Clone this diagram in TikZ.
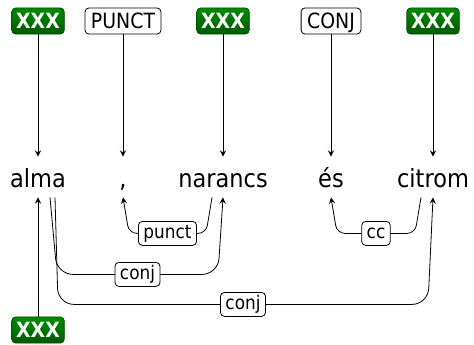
\documentclass[tikz,border=0pt]{standalone}
\usepackage{fontspec}
\setmainfont{DejaVu Sans}[FakeStretch=0.9]
\usetikzlibrary{arrows,positioning,calc}

\begin{document}
\begin{tikzpicture}[x=0.5pt,y=0.5pt,
  word/.style={inner sep=0pt,text height=15pt,text depth=5pt,anchor=base,font=\fontsize{12.5}{15}\selectfont},
  tag/.style={draw,rounded corners=2pt,inner xsep=3pt,inner ysep=2.7pt,text height=7.65pt,text depth=0pt,font=\fontsize{10.5}{12}\selectfont},
  xtag/.style={tag,draw=green!30!black,top color=green!55!black,bottom color=green!35!black,text=white,font=\fontsize{10.5}{12}\selectfont\bfseries,inner xsep=2.2pt},
  deplab/.style={draw,fill=white,rounded corners=2pt,inner xsep=2.5pt,inner ysep=1.5pt,text height=7pt,text depth=2pt,font=\fontsize{9.4}{11}\selectfont},
  edge/.style={-stealth,rounded corners=4pt}
]
\useasboundingbox (0,0) rectangle (474,344);

% words
\node[word] (alma) at (38,157) {alma};
\node[word] (comma) at (123,157) {,};
\node[word] (narancs) at (223,157) {narancs};
\node[word] (es) at (331,157) {és};
\node[word] (citrom) at (433,157) {citrom};

% tags
\node[xtag] (t1) at (38,323) {XXX};
\node[tag] (t2) at (123,323) {PUNCT};
\node[xtag] (t3) at (223,323) {XXX};
\node[tag] (t4) at (331,323) {CONJ};
\node[xtag] (t5) at (433,323) {XXX};
\node[xtag] (root) at (38,14) {XXX};

\draw[-stealth] (t1) -- (alma);
\draw[-stealth] (t2) -- (comma);
\draw[-stealth] (t3) -- (narancs);
\draw[-stealth] (t4) -- (es);
\draw[-stealth] (t5) -- (citrom);
\draw[-stealth] (root) -- (alma);

% dependencies
\draw[edge] ($(narancs.south)+(-11,0)$) -- ++(-6,-36)
  -- node[deplab]{punct} ($(comma.south)+(6,-36)$) -- (comma.south);
\draw[edge] ($(citrom.south)+(-12,0)$) -- ++(-6,-36)
  -- node[deplab]{cc} ($(es.south)+(6,-36)$) -- (es.south);
\draw[edge,rounded corners=8pt] ($(alma.south)+(12,0)$) -- ++(7,-77)
  -- node[deplab]{conj} ($(narancs.south)+(-5,-77)$) -- (narancs.south);
\draw[edge,rounded corners=8pt] ($(alma.south)+(17,0)$) -- ++(3,-107)
  -- node[deplab]{conj} ($(citrom.south)+(-5,-107)$) -- (citrom.south);
\end{tikzpicture}
\end{document}
